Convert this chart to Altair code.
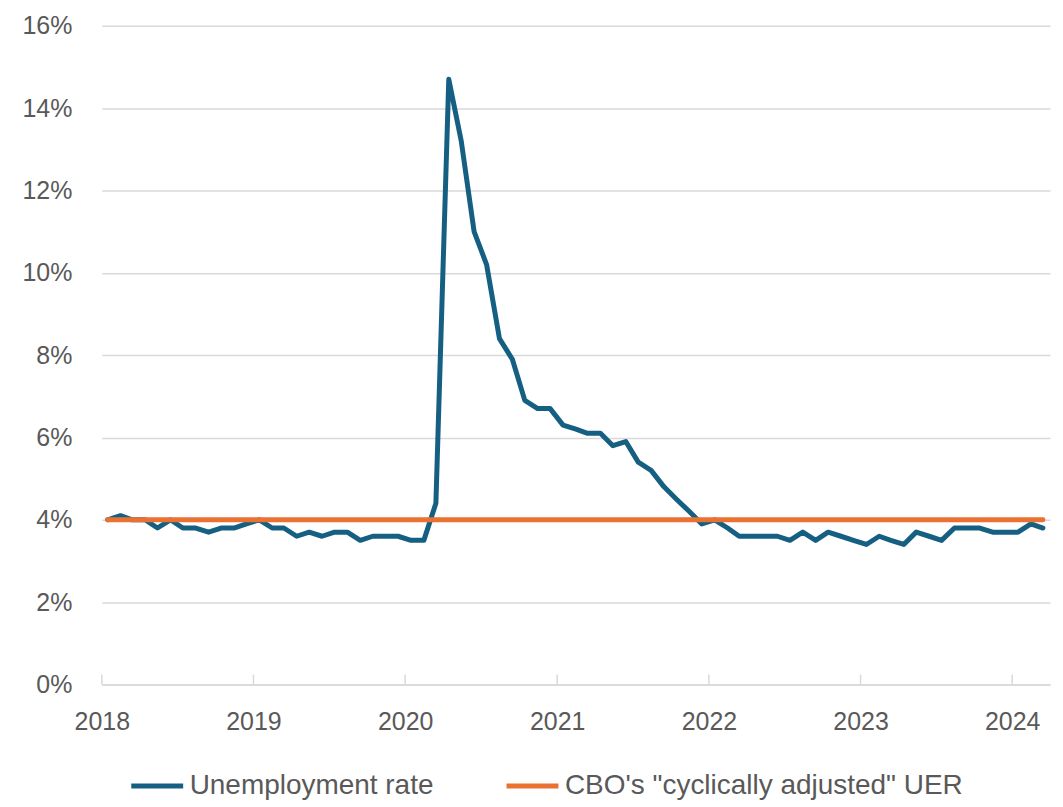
import altair as alt
import pandas as pd

# ---- data ----
unemployment = [
    4.0, 4.1, 4.0, 4.0, 3.8, 4.0, 3.8, 3.8, 3.7, 3.8, 3.8, 3.9,   # 2018
    4.0, 3.8, 3.8, 3.6, 3.7, 3.6, 3.7, 3.7, 3.5, 3.6, 3.6, 3.6,   # 2019
    3.5, 3.5, 4.4, 14.7, 13.2, 11.0, 10.2, 8.4, 7.9, 6.9, 6.7, 6.7,  # 2020
    6.3, 6.2, 6.1, 6.1, 5.8, 5.9, 5.4, 5.2, 4.8, 4.5, 4.2, 3.9,   # 2021
    4.0, 3.8, 3.6, 3.6, 3.6, 3.6, 3.5, 3.7, 3.5, 3.7, 3.6, 3.5,   # 2022
    3.4, 3.6, 3.5, 3.4, 3.7, 3.6, 3.5, 3.8, 3.8, 3.8, 3.7, 3.7,   # 2023
    3.7, 3.9, 3.8,                                                # 2024
]
cbo_adjusted = [4.0] * len(unemployment)
series_names = ["Unemployment rate", "CBO's \"cyclically adjusted\" UER"]
series_colors = ["#156082", "#E97132"]
tick_years = [2018, 2019, 2020, 2021, 2022, 2023, 2024]
y_ticks = [0, 2, 4, 6, 8, 10, 12, 14, 16]

dates = pd.date_range("2018-01-01", periods=len(unemployment), freq="MS") + pd.Timedelta(days=14)
df_ur = pd.DataFrame({"date": dates, "value": unemployment, "series": series_names[0]})
df_cbo = pd.DataFrame({"date": dates, "value": cbo_adjusted, "series": series_names[1]})
df_ticks = pd.DataFrame({"date": pd.to_datetime([f"{y}-01-01" for y in tick_years])})

FONT = "Liberation Sans"
TEXT = "#595959"
GRID = "#D9D9D9"

x_scale = alt.Scale(domain=[alt.DateTime(year=2018, month=1, date=1),
                            alt.DateTime(year=2024, month=4, date=1)])
x_axis = alt.Axis(
    values=[alt.DateTime(year=y, month=1, date=1) for y in tick_years],
    format="%Y", title=None, grid=False, ticks=False, tickSize=0,
    domainColor=GRID, domainWidth=1.5, labelFlush=False,
    labelFont=FONT, labelFontSize=25, labelColor=TEXT, labelPadding=25,
)
x_enc = alt.X("date:T", scale=x_scale, axis=x_axis)
y_enc = alt.Y(
    "value:Q",
    scale=alt.Scale(domain=[0, 16], nice=False),
    axis=alt.Axis(
        values=y_ticks, labelExpr="datum.value + '%'", title=None,
        ticks=False, tickSize=0, domain=False,
        grid=True, gridColor=GRID, gridWidth=1.5,
        labelFont=FONT, labelFontSize=25, labelColor=TEXT, labelPadding=30,
    ),
)
color_enc = alt.Color(
    "series:N",
    scale=alt.Scale(domain=series_names, range=series_colors),
    legend=alt.Legend(
        title=None, orient="none", direction="horizontal",
        legendX=27, legendY=733,
        symbolType="stroke", symbolSize=2704, symbolStrokeWidth=5,
        labelFont=FONT, labelFontSize=28, labelColor=TEXT, labelOffset=4,
        columnPadding=62, labelLimit=600,
    ),
)

ur_line = alt.Chart(df_ur).mark_line(strokeWidth=5, strokeCap="round", strokeJoin="round").encode(
    x=x_enc, y=y_enc, color=color_enc
)
cbo_line = alt.Chart(df_cbo).mark_line(strokeWidth=5, strokeCap="round", strokeJoin="round").encode(
    x=x_enc, y=y_enc, color=color_enc
)
ticks = alt.Chart(df_ticks).mark_rule(color=GRID, strokeWidth=1.5).encode(
    x=x_enc, y=alt.value(650), y2=alt.value(660)
)

chart = alt.layer(ur_line, cbo_line, ticks).properties(
    width=950, height=660,
    autosize=alt.AutoSizeParams(type="none"),
    padding={"left": 94, "top": 17, "right": 5, "bottom": 119},
).configure(background="white").configure_view(stroke=None).configure_axisY(domain=False)

chart.save("out.html", embed_options={"renderer": "svg", "actions": False})
